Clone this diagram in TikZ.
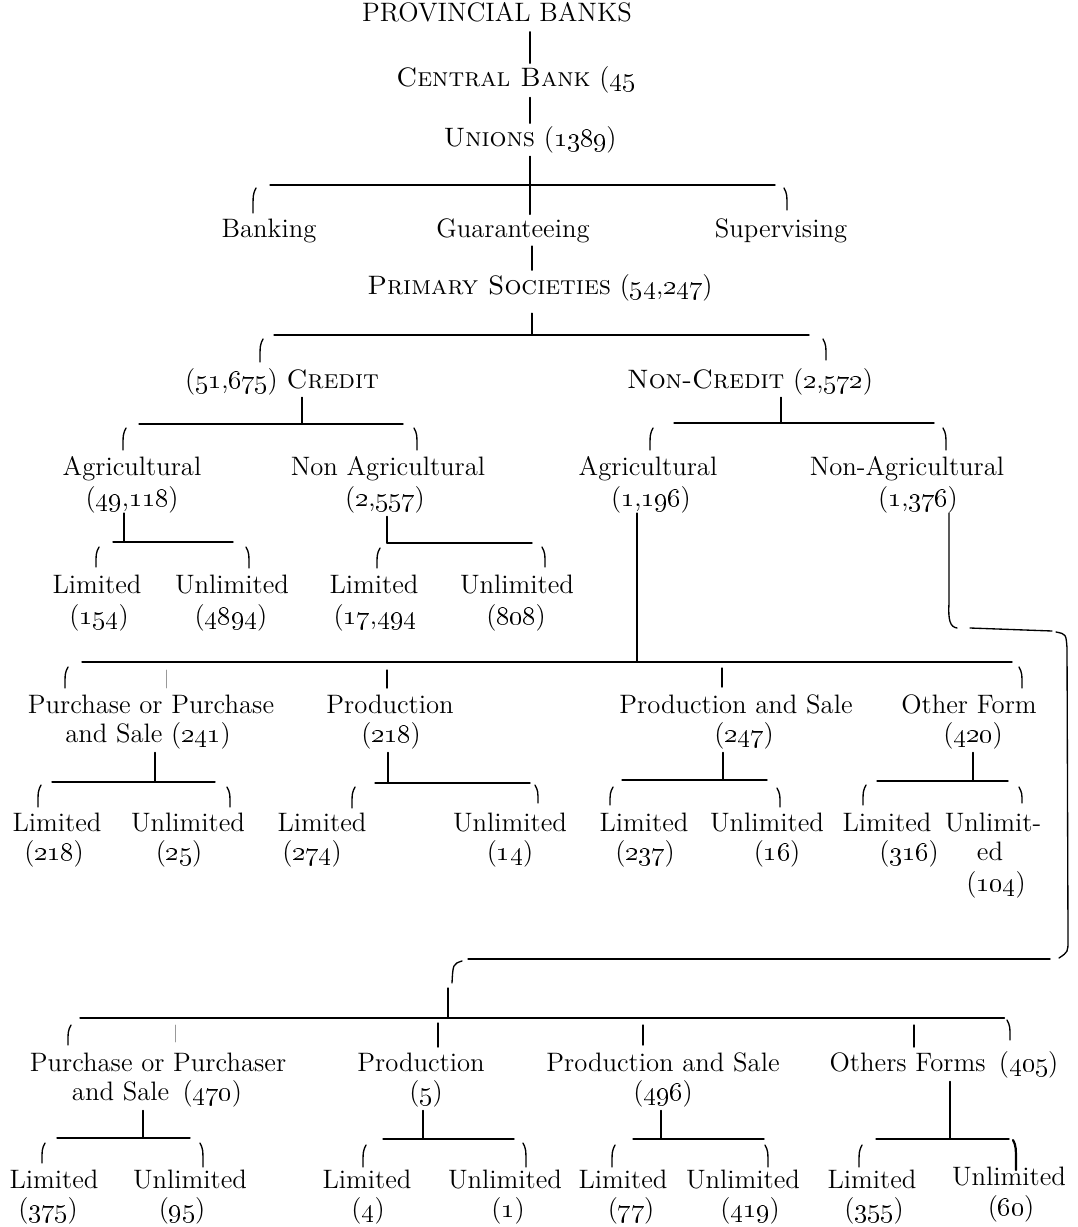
\documentclass[tikz,border=0pt]{standalone}
\newcommand\os[1]{\oldstylenums{#1}}
\newcommand\lpar[3]{\draw[cn] (#1+3,#2) .. controls (#1,#2+6) .. (#1,#3);}
\newcommand\rpar[3]{\draw[cn] (#1-3,#2) .. controls (#1,#2+6) .. (#1,#3);}
\begin{document}
\begin{tikzpicture}[x=0.45pt,y=-0.45pt,
  lbl/.style={font=\fontsize{12}{14}\selectfont, inner sep=0pt, anchor=base},
  cn/.style={line width=0.6pt},
  faint/.style={line width=0.4pt, black!40},
  line cap=round]
\useasboundingbox (0,0) rectangle (1077,1227);

% ---------- texts ----------
\node[lbl] (pb) at (497,22) {PROVINCIAL BANKS};
\node[lbl] (cb) at (516,87) {\textsc{Central Bank} (\os{45}};
\node[lbl] (un) at (530,147) {\textsc{Unions} (\os{1389})};
\node[lbl] (bank) at (269,238) {Banking};
\node[lbl] (guar) at (513,238) {Guaranteeing};
\node[lbl] (sup) at (781,238) {Supervising};
\node[lbl] (ps) at (540,295) {\textsc{Primary Societies} (\os{54},\os{247})};
\node[lbl] (cr) at (282,388) {(\os{51},\os{675}) \textsc{Credit}};
\node[lbl] (nc) at (750,388) {\textsc{Non-Credit} (\os{2},\os{572})};

\node[lbl] (ca) at (132,475) {Agricultural};
\node[lbl] (can) at (132,506) {(\os{49},\os{118})};
\node[lbl] (cna) at (388,475) {Non Agricultural};
\node[lbl] (cnan) at (385,506) {(\os{2},\os{557})};
\node[lbl] (na) at (648,475) {Agricultural};
\node[lbl] (nan) at (651,506) {(\os{1},\os{196})};
\node[lbl] (nna) at (907,475) {Non-Agricultural};
\node[lbl] (nnan) at (918,506) {(\os{1},\os{376})};

\node[lbl] (l1) at (97,593) {Limited};
\node[lbl] (l1n) at (99,624) {(\os{154})};
\node[lbl] (u1) at (232,593) {Unlimited};
\node[lbl] (u1n) at (231,624) {(\os{4894})};
\node[lbl] (l2) at (374,593) {Limited};
\node[lbl] (l2n) at (375,624) {(\os{17},\os{494}};
\node[lbl] (u2) at (517,593) {Unlimited};
\node[lbl] (u2n) at (516,624) {(\os{808})};

\node[lbl] (pp) at (151,713) {Purchase or Purchase};
\node[lbl] (ppn) at (148,742) {and Sale (\os{241})};
\node[lbl] (pr) at (390,713) {Production};
\node[lbl] (prn) at (391,742) {(\os{218})};
\node[lbl] (pas) at (736,713) {Production and Sale};
\node[lbl] (pasn) at (744,742) {(\os{247})};
\node[lbl] (of) at (969,713) {Other Form};
\node[lbl] (ofn) at (973,742) {(\os{420})};

\node[lbl] (l3) at (57,831) {Limited};
\node[lbl] (l3n) at (54,860) {(\os{218})};
\node[lbl] (u3) at (188,831) {Unlimited};
\node[lbl] (u3n) at (179,860) {(\os{25})};
\node[lbl] (l4) at (322,831) {Limited};
\node[lbl] (l4n) at (312,860) {(\os{274})};
\node[lbl] (u4) at (510,831) {Unlimited};
\node[lbl] (u4n) at (510,860) {(\os{14})};
\node[lbl] (l5) at (644,831) {Limited};
\node[lbl] (l5n) at (645,860) {(\os{237})};
\node[lbl] (u5) at (767,831) {Unlimited};
\node[lbl] (u5n) at (777,860) {(\os{16})};
\node[lbl] (l6) at (887,831) {Limited};
\node[lbl] (l6n) at (909,860) {(\os{316})};
\node[lbl] (u6) at (993,831) {Unlimit-};
\node[lbl] (u6b) at (990,860) {ed};
\node[lbl] (u6n) at (996,891) {(\os{104})};

\node[lbl] (pp2) at (158,1071) {Purchase or Purchaser};
\node[lbl] (pp2n) at (157,1100) {and Sale\enspace(\os{470})};
\node[lbl] (pr2) at (421,1071) {Production};
\node[lbl] (pr2n) at (426,1100) {(\os{5})};
\node[lbl] (pas2) at (663,1071) {Production and Sale};
\node[lbl] (pas2n) at (663,1100) {(\os{496})};
\node[lbl] (of2) at (944,1071) {Others Forms\enspace(\os{405})};

\node[lbl] (l7) at (54,1188) {Limited};
\node[lbl] (l7n) at (48,1217) {(\os{375})};
\node[lbl] (u7) at (190,1188) {Unlimited};
\node[lbl] (u7n) at (182,1217) {(\os{95})};
\node[lbl] (l8) at (367,1188) {Limited};
\node[lbl] (l8n) at (368,1217) {(\os{4})};
\node[lbl] (u8) at (505,1188) {Unlimited};
\node[lbl] (u8n) at (508,1217) {(\os{1})};
\node[lbl] (l9) at (623,1188) {Limited};
\node[lbl] (l9n) at (631,1217) {(\os{77})};
\node[lbl] (u9) at (743,1188) {Unlimited};
\node[lbl] (u9n) at (750,1217) {(\os{419})};
\node[lbl] (l10) at (872,1188) {Limited};
\node[lbl] (l10n) at (874,1217) {(\os{355})};
\node[lbl] (u10) at (1009,1185) {Unlimited};
\node[lbl] (u10n) at (1011,1215) {(\os{60})};

% ---------- junctions ----------
\coordinate (sp) at (530,0);
\coordinate (sp2) at (532,0);
\coordinate (j1) at (530,185);
\coordinate (j2) at (532,335);
\coordinate (j3) at (302,424);
\coordinate (j4) at (781,423);
\coordinate (j5) at (124,542);
\coordinate (j6) at (387,543);
\coordinate (j7) at (637,662);
\coordinate (hk) at (949,0);
\coordinate (j8) at (448,1018);
\coordinate (j9) at (155,782);
\coordinate (j10) at (388,783);
\coordinate (j11) at (723,780);
\coordinate (j12) at (973,781);
\coordinate (j13) at (143,1138);
\coordinate (j14) at (423,1139);
\coordinate (j15) at (661,1139);
\coordinate (j16) at (950,1139);

% ---------- spine ----------
\draw[cn,shorten <=4pt,shorten >=1.5pt] (pb.south -| sp) -- (cb.north -| sp);
\draw[cn,shorten <=1.5pt,shorten >=1.5pt] (cb.south -| sp) -- (un.north -| sp);
\draw[cn,shorten <=1pt] (un.south -| sp) -- (j1);
\draw[cn] (270,185) -- (775,185);
\draw[cn,shorten >=2pt] (j1) -- (guar.north -| j1);
\lpar{253}{188}{213}
\rpar{787}{188}{210}
\draw[cn,shorten <=1pt,shorten >=2pt] (guar.south -| sp2) -- (ps.north -| sp2);

% ---------- primary societies ----------
\draw[cn,shorten <=5pt] (ps.south -| j2) -- (j2);
\draw[cn] (274,335) -- (809,335);
\lpar{260}{339}{362}
\rpar{826}{339}{360}

% credit
\draw[cn,shorten <=1pt] (cr.south -| j3) -- (j3);
\draw[cn] (139,424) -- (403,424);
\lpar{123}{428}{450}
\rpar{417}{428}{450}
% non-credit
\draw[cn,shorten <=1pt] (nc.south -| j4) -- (j4);
\draw[cn] (674,423) -- (934,423);
\lpar{650}{428}{450}
\rpar{946}{428}{450}

% credit agricultural
\draw[cn,shorten <=0pt] (can.south -| j5) -- (j5);
\draw[cn] (113,542) -- (233,542);
\lpar{96}{547}{567}
\rpar{249}{547}{568}
% credit non agricultural
\draw[cn,shorten <=1.5pt] (cnan.south -| j6) -- (j6);
\draw[cn] (j6) -- (532,543);
\lpar{377}{548}{568}
\rpar{545}{547}{567}

% non-credit agricultural
\draw[cn] (nan.south -| j7) -- (j7);
\draw[cn] (82,662) -- (1012,662);
\lpar{65}{667}{688}
\draw[faint] (166,670) -- (166,688);
\draw[cn] (387,670) -- (387,688);
\draw[cn] (722,668) -- (722,687);
\rpar{1022}{667}{688}

% non-credit non-agricultural (long hook)
\draw[cn] (nnan.south -| hk) -- (949,603) .. controls (948,620) and (950,627) .. (957,628);
\draw[cn] (970,628) -- (1052,631);
\draw[cn] (1056,632) .. controls (1066,634) .. (1067,648) -- (1068,940) .. controls (1068,952) .. (1059,958);
\draw[cn] (1050,959) -- (468,959);
\draw[cn] (462,961) .. controls (453,964) .. (452,983);
\draw[cn] (448,988) -- (j8);
\draw[cn] (80,1018) -- (1004,1018);
\draw[line width=0.9pt] (895,1018) -- (1004,1018);
\lpar{68}{1025}{1045}
\draw[faint] (175,1025) -- (175,1042);
\draw[cn] (438,1023) -- (438,1047);
\draw[cn] (643,1025) -- (643,1045);
\draw[cn] (914,1025) -- (914,1047);
\rpar{1010}{1020}{1040}

% ---------- third level (upper) ----------
\draw[cn,shorten <=1.5pt] (ppn.south -| j9) -- (j9);
\draw[cn] (52,782) -- (215,782);
\lpar{38}{785}{807}
\rpar{230}{787}{807}

\draw[cn,shorten <=1.5pt] (prn.south -| j10) -- (j10);
\draw[cn] (375,783) -- (530,783);
\lpar{352}{787}{808}
\rpar{538}{785}{803}

\draw[cn,shorten <=1.5pt] (pasn.south -| j11) -- (j11);
\draw[cn] (622,780) -- (767,780);
\lpar{610}{787}{805}
\rpar{780}{788}{807}

\draw[cn,shorten <=1.5pt] (ofn.south -| j12) -- (j12);
\draw[cn] (877,781) -- (1008,781);
\lpar{863}{785}{805}
\rpar{1022}{787}{803}

% ---------- third level (lower) ----------
\draw[cn,shorten <=1.5pt] (pp2n.south -| j13) -- (j13);
\draw[cn] (57,1138) -- (190,1138);
\lpar{42}{1143}{1163}
\rpar{203}{1143}{1167}

\draw[cn,shorten <=1.5pt] (pr2n.south -| j14) -- (j14);
\draw[cn] (383,1139) -- (514,1139);
\lpar{363}{1145}{1167}
\rpar{526}{1143}{1167}

\draw[cn,shorten <=1.5pt] (pas2n.south -| j15) -- (j15);
\draw[cn] (633,1139) -- (764,1139);
\lpar{612}{1145}{1167}
\rpar{768}{1145}{1167}

\draw[cn,shorten <=1.5pt] (of2.south -| j16) -- (j16);
\draw[cn] (876,1139) -- (1009,1139);
\lpar{859}{1145}{1167}
\draw[line width=1pt] (1013,1140) .. controls (1016,1146) .. (1016,1170);
\end{tikzpicture}
\end{document}
